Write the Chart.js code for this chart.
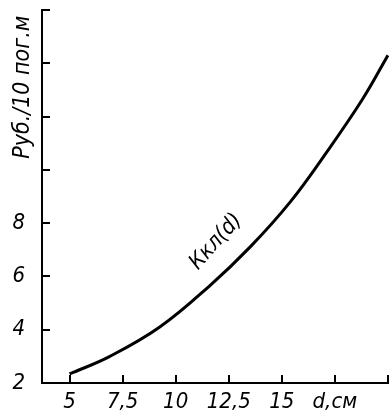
<!DOCTYPE html>
<html>
<head>
<meta charset="utf-8">
<script src="https://cdn.jsdelivr.net/npm/chart.js@4.4.1/dist/chart.umd.min.js"></script>
<style>
  body { margin: 0; background: #fff; }
</style>
</head>
<body>
<canvas id="chart" width="389" height="420"></canvas>
<script>
// curve Ккл(d)
const diameters = [5, 6.9, 9.25, 11.6, 13.5, 15.4, 17.1, 18.8, 20];
const costs = [2.34, 3.0, 4.1, 5.65, 7.1, 8.8, 10.65, 12.65, 14.3];

const xTicks = [5, 7.5, 10, 12.5, 15, 17.5, 20];
const xTickLabels = ['5', '7,5', '10', '12,5', '15', 'd,см', ''];
const yTicks = [2, 4, 6, 8, 10, 12, 14, 16];
const yTickLabels = ['2', '4', '6', '8', '', '', '', ''];

const yTitle = 'Руб./10 пог.м';
const curveName = 'Ккл(d)';

const FONT = "'DejaVu Sans Condensed', 'Liberation Sans Narrow', sans-serif";

// short tick marks pointing into the plot, plus the two names
const extrasPlugin = {
    id: 'extras',
    afterDraw(chart) {
        const ctx = chart.ctx;
        const x = chart.scales.x;
        const y = chart.scales.y;
        const area = chart.chartArea;
        ctx.save();
        ctx.strokeStyle = '#000';
        ctx.lineWidth = 2;
        ctx.beginPath();
        xTicks.forEach(v => {
            const px = Math.round(x.getPixelForValue(v));
            ctx.moveTo(px, area.bottom);
            ctx.lineTo(px, area.bottom - 8);
        });
        yTicks.forEach(v => {
            const py = Math.round(y.getPixelForValue(v));
            ctx.moveTo(area.left, py);
            ctx.lineTo(area.left + 8, py);
        });
        ctx.stroke();

        ctx.fillStyle = '#000';
        ctx.textAlign = 'center';
        ctx.textBaseline = 'middle';

        ctx.font = 'italic 23px ' + FONT;
        ctx.save();
        ctx.translate(area.left - 19, y.getPixelForValue(13.1));
        ctx.rotate(-Math.PI / 2);
        ctx.fillText(yTitle, 0, 0);
        ctx.restore();

        ctx.font = 'italic 22px ' + FONT;
        ctx.save();
        ctx.translate(x.getPixelForValue(11.9), y.getPixelForValue(7.3));
        ctx.rotate(-48 * Math.PI / 180);
        ctx.fillText(curveName, 0, 0);
        ctx.restore();

        ctx.restore();
    }
};

new Chart(document.getElementById('chart'), {
    type: 'line',
    data: {
        datasets: [{
            data: diameters.map((d, i) => ({x: d, y: costs[i]})),
            borderColor: '#000',
            borderWidth: 3,
            pointRadius: 0,
            tension: 0.4,
            fill: false
        }]
    },
    options: {
        responsive: false,
        animation: false,
        layout: {padding: {top: 10, right: 0, left: 0, bottom: 0}},
        plugins: {
            legend: {display: false},
            tooltip: {enabled: false}
        },
        scales: {
            x: {
                type: 'linear',
                min: 3.7,
                max: 20.05,
                afterBuildTicks: s => { s.ticks = xTicks.map(v => ({value: v})); },
                afterFit: s => {
                    s.height = 37;
                    s.paddingLeft = 0; s.paddingRight = 0;
                },
                border: {display: true, color: '#000', width: 2},
                grid: {display: false, drawOnChartArea: false, drawTicks: false},
                ticks: {
                    color: '#000',
                    padding: 6,
                    maxRotation: 0,
                    autoSkip: false,
                    font: {family: FONT, size: 22, style: 'italic'},
                    callback: (v, i) => xTickLabels[i]
                }
            },
            y: {
                min: 2,
                max: 16,
                afterBuildTicks: s => { s.ticks = yTicks.map(v => ({value: v})); },
                afterFit: s => {
                    s.width = 42;
                    s.paddingTop = 0; s.paddingBottom = 0;
                },
                border: {display: true, color: '#000', width: 2},
                grid: {display: false, drawOnChartArea: false, drawTicks: false},
                ticks: {
                    color: '#000',
                    padding: 17,
                    autoSkip: false,
                    font: {family: FONT, size: 22, style: 'italic'},
                    callback: (v, i) => yTickLabels[i]
                }
            }
        }
    },
    plugins: [extrasPlugin]
});
</script>
</body>
</html>
